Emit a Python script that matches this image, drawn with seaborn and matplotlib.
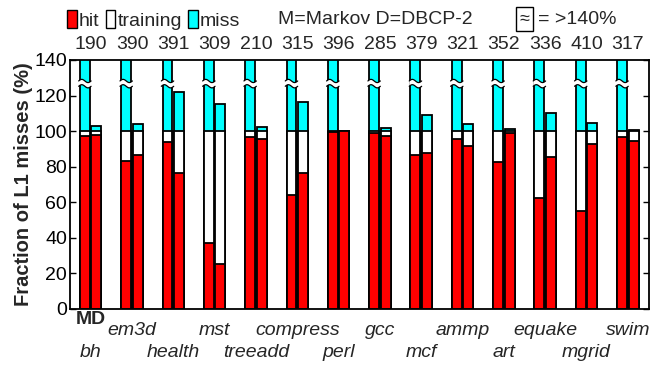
import numpy as np
import pandas as pd
import matplotlib
matplotlib.use("Agg")
import matplotlib.pyplot as plt
import seaborn as sns
from matplotlib.patches import Patch, Polygon

sns.set_style("white")
plt.rcParams['font.family'] = ['Liberation Sans', 'DejaVu Sans']

benchmarks = ["bh", "em3d", "health", "mst", "treeadd", "compress", "perl",
              "gcc", "mcf", "ammp", "art", "equake", "mgrid", "swim"]
# Markov (M)
hit_M = [97.2, 83.3, 93.6, 36.8, 96.8, 64.1, 99.6, 98.7, 86.5, 95.3, 82.4, 62.1, 54.8, 96.8]
total_M = [190, 390, 391, 309, 210, 315, 396, 285, 379, 321, 352, 336, 410, 317]
# DBCP-2 (D)
hit_D = [97.6, 86.5, 76.5, 25.3, 95.3, 76.5, 99.8, 97.2, 87.8, 91.6, 99.0, 85.5, 92.5, 94.4]
total_D = [102.8, 103.9, 121.8, 115.0, 102.1, 116.3, 100.3, 101.5, 108.8, 103.9, 101.2, 110.0, 104.7, 100.5]
hit_plus_training = 100.0

RED = "#FF0000"
CYAN = "#00FFFF"

rows = []
for i, b in enumerate(benchmarks):
    rows.append(dict(bench=b, scheme="M", total=total_M[i],
                     ht=hit_plus_training, hit=hit_M[i]))
    rows.append(dict(bench=b, scheme="D", total=total_D[i],
                     ht=hit_plus_training, hit=hit_D[i]))
df = pd.DataFrame(rows)

fig = plt.figure(figsize=(6.59, 3.71), dpi=100)
ax = fig.add_axes([70/659, 1-308.7/371, (648.5-70)/659, (308.7-60)/371])

common = dict(data=df, x="bench", hue="scheme", order=benchmarks,
              hue_order=["M", "D"], width=0.56, gap=0.14, edgecolor="black",
              linewidth=1.3, errorbar=None, legend=False, ax=ax, saturation=1)
sns.barplot(y="total", palette=[CYAN, CYAN], **common)
n_first = len(ax.patches)
sns.barplot(y="ht", palette=["white", "white"], **common)
sns.barplot(y="hit", palette=[RED, RED], **common)

ax.set_ylim(0, 140)
ax.set_xlim(-0.5, len(benchmarks) - 0.5)
ax.set_yticks(np.arange(0, 141, 20))
ax.set_xticks([])
ax.set_xlabel("")
ax.set_ylabel("Fraction of L1 misses (%)", fontsize=14.5, fontweight="bold", labelpad=1)
ax.tick_params(axis="y", direction="in", length=4, width=1, labelsize=14,
               right=True, left=True, pad=2, colors="black")
for s in ax.spines.values():
    s.set_color("black")
    s.set_linewidth(1.3)

# break symbols on clipped bars
ybrk = 126.7
for p in ax.patches[:n_first]:
    if p.get_height() > 140:
        x0 = p.get_x() - 0.03
        x1 = p.get_x() + p.get_width() + 0.03
        t = np.linspace(0, 1, 30)
        xs = x0 + (x1 - x0) * t
        wave = 0.9 * np.sin(2 * np.pi * t)
        lo = ybrk - 1.5 + wave
        hi = ybrk + 1.5 + wave
        poly = np.vstack([np.column_stack([xs, lo]), np.column_stack([xs[::-1], hi[::-1]])])
        ax.add_patch(Polygon(poly, closed=True, facecolor="white", edgecolor="none", zorder=5))
        ax.plot(xs, lo, color="black", lw=0.9, zorder=6)
        ax.plot(xs, hi, color="black", lw=0.9, zorder=6)

# totals above the plot
for i, v in enumerate(total_M):
    ax.text(i, 148.6, str(v), ha="center", va="center", fontsize=14, clip_on=False)

# benchmark labels, staggered
for i, b in enumerate(benchmarks):
    ytxt = -12.5 if i % 2 == 1 else -24.5
    ax.text(i, ytxt, b, ha="center", va="center", fontsize=14, style="italic",
            clip_on=False)
ax.text(0, -6.2, "MD", ha="center", va="center", fontsize=14, fontweight="bold",
        clip_on=False)

# legend
handles = [Patch(facecolor=RED, edgecolor="black", lw=1),
           Patch(facecolor="white", edgecolor="black", lw=1),
           Patch(facecolor=CYAN, edgecolor="black", lw=1)]
fig.legend(handles, ["hit", "training", "miss"], loc="center left",
           bbox_to_anchor=(67/659, 1-20/371), ncol=3, frameon=False,
           fontsize=14, handlelength=0.5, handleheight=1.0, handletextpad=0.12,
           columnspacing=0.3, borderpad=0, borderaxespad=0)
fig.text(278/659, 1-20/371, "M=Markov D=DBCP-2", fontsize=14, ha="left", va="center")
fig.text(524.5/659, 1-19/371, "≈", fontsize=13, ha="center", va="center",
         bbox=dict(boxstyle="square,pad=0.22", fc="white", ec="black", lw=1))
fig.text(538/659, 1-20/371, "= >140%", fontsize=14, ha="left", va="center")

fig.savefig("out.png", dpi=100)
